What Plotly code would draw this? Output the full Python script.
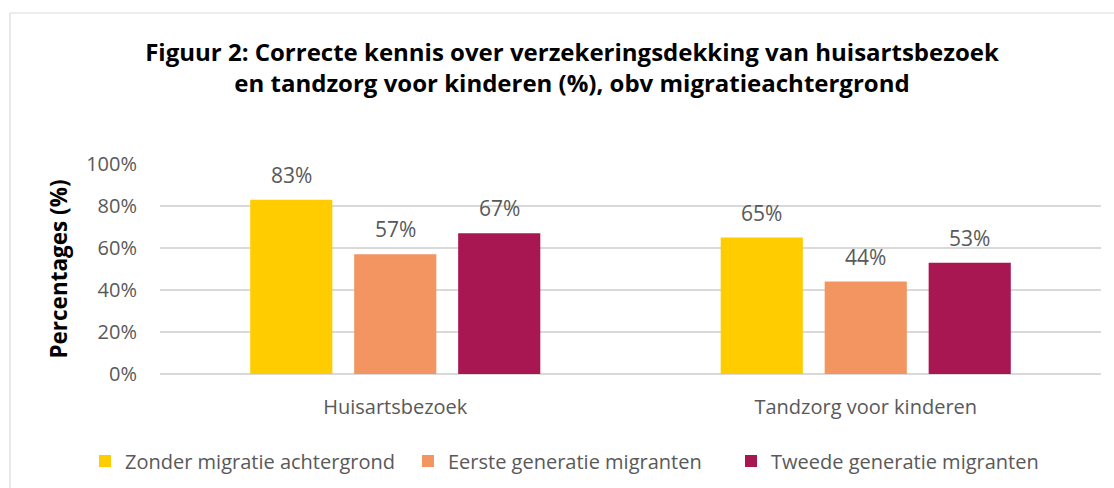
import plotly.graph_objects as go

categories = ["Huisartsbezoek", "Tandzorg voor kinderen"]
series_names = ["Zonder migratie achtergrond", "Eerste generatie migranten", "Tweede generatie migranten"]
zonder = [0.83, 0.65]
eerste = [0.57, 0.44]
tweede = [0.67, 0.53]
colors = ["#FFCC00", "#F29560", "#A81752"]
y_ticks = [0, 0.2, 0.4, 0.6, 0.8, 1.0]
y_tick_labels = ["0%", "20%", "40%", "60%", "80%", "100%"]

W, H = 1114, 488
L, R, T, B = 160, 13, 164, 114
PW, PH = W - L - R, H - T - B

FONT = "Open Sans"
GRAY = "#595959"

fig = go.Figure()
all_series = [zonder, eerste, tweede]
for name, vals, col in zip(series_names, all_series, colors):
    fig.add_trace(go.Bar(
        x=categories, y=vals, name=name, marker=dict(color=col, line=dict(width=0)),
        hoverinfo="skip",
    ))

# data labels above bars
slot = (1 - 0.337) * PW / len(categories) / len(all_series)
annotations = []
for i, vals in enumerate(all_series):
    for cat, v in zip(categories, vals):
        annotations.append(dict(
            x=cat, y=v, xref="x", yref="y", text=f"{round(v*100)}%",
            showarrow=False, xshift=(i - 1) * slot, yshift=9, yanchor="bottom",
            font=dict(family=FONT, size=21, color=GRAY),
        ))

def px_x(p):
    return (p - L) / PW

def px_y(p):
    return (H - B - p) / PH

shapes = [
    dict(type="line", xref="paper", yref="paper", x0=px_x(10), x1=px_x(1114), y0=px_y(13), y1=px_y(13),
         line=dict(color="#D9D9D9", width=1.2)),
    dict(type="line", xref="paper", yref="paper", x0=px_x(10), x1=px_x(10), y0=px_y(13), y1=px_y(488),
         line=dict(color="#D9D9D9", width=1.2)),
]

fig.update_layout(
    width=W, height=H,
    margin=dict(l=L, r=R, t=T, b=B, pad=0, autoexpand=False),
    paper_bgcolor="white", plot_bgcolor="white",
    barmode="group", bargap=0.337, bargroupgap=0.21,
    title=dict(
        text="<b>Figuur 2: Correcte kennis over verzekeringsdekking van huisartsbezoek<br>en tandzorg voor kinderen (%), obv migratieachtergrond</b>",
        x=572 / W, xanchor="center",
        y=1 - 61 / H, yanchor="middle",
        font=dict(family=FONT, size=24, color="black"),
    ),
    font=dict(family=FONT, color=GRAY),
    xaxis=dict(
        showgrid=False, showline=False, zeroline=False,
        tickfont=dict(family=FONT, size=20, color=GRAY),
        ticks="", ticklabelstandoff=19,
    ),
    yaxis=dict(
        range=[0, 1.0], tickvals=y_ticks, ticktext=y_tick_labels,
        showgrid=True, gridcolor="#D9D9D9", gridwidth=1.5,
        zeroline=True, zerolinecolor="#D9D9D9", zerolinewidth=1.5,
        showline=False, ticks="",
        tickfont=dict(family=FONT, size=20, color=GRAY),
        ticklabelstandoff=22,
        title=dict(text="<b>Percentages (%)</b>", font=dict(family=FONT, size=22.5, color="black"), standoff=12),
    ),
    legend=dict(
        orientation="h", x=px_x(85), xanchor="left",
        y=px_y(461), yanchor="middle",
        font=dict(family=FONT, size=20, color=GRAY),
        entrywidth=278, entrywidthmode="pixels",
        itemclick=False, itemdoubleclick=False,
    ),
    annotations=annotations,
    shapes=shapes,
    showlegend=True,
)

fig.write_html(
    "out.html",
    config={"displayModeBar": False},
    post_script="document.body.style.margin='0';document.body.style.overflow='hidden';",
)
